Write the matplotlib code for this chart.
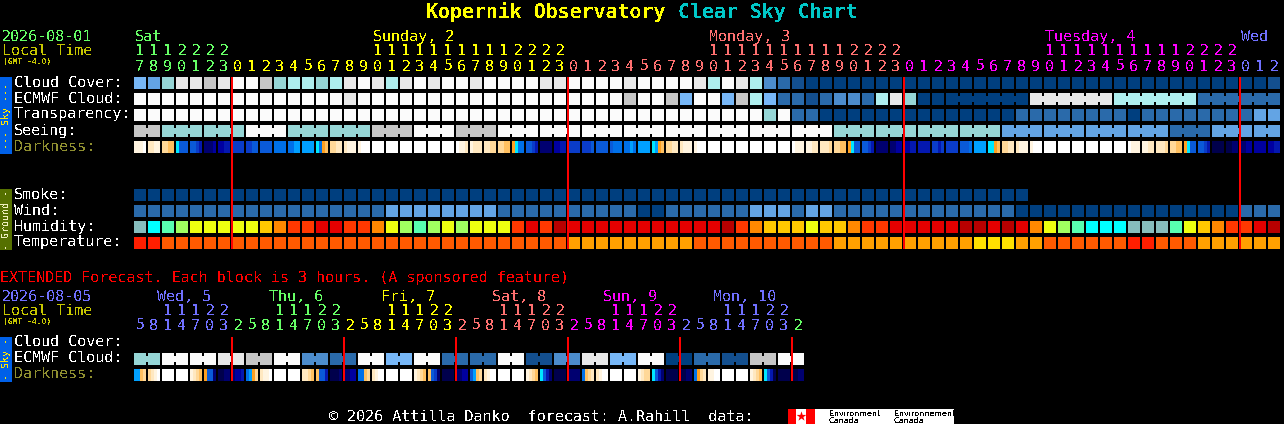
import matplotlib
matplotlib.use('Agg')
import matplotlib.pyplot as plt

plt.rcParams['font.family'] = ['DejaVu Sans Mono']
plt.rcParams['text.antialiased'] = False
plt.rcParams['text.hinting'] = 'no_hinting'

# colour scales
cloud_colors = ['#003f7f', '#134f8f', '#2a6aaa', '#4c8ccc', '#63a4e4', '#77b7f7',
                '#96d6d6', '#aeeeee', '#c6c6c6', '#e8e8e8', '#fbfbfb']
humid_colors = ['#86bdbd', '#00ffff', '#58ffb0', '#a0ff60', '#eeff10', '#ffc800',
                '#ff8800', '#ff3800', '#e40000', '#b80000']
temp_colors = ['#ff1e00', '#ff5a00', '#ffa000', '#ffe000']
dark_colors = ['#00004c', '#000070', '#0000a0', '#0418b0', '#0a3cc8', '#0a5ad8',
               '#0070e8', '#00a0ff', '#00e8ff', '#ffa020', '#ffc060', '#ffd898',
               '#ffe8c0', '#fff4e0', '#ffffff']

cloud_cover = [5, 4, 6, 9, 9, 8, 9, 10, 10, 8, 6, 7, 7, 6, 7, 9, 10, 9, 7, 9, 10,
               9, 10, 10, 9, 10, 10, 10, 10, 9, 9, 10, 10, 10, 10, 9, 10, 10, 10, 10, 9,
               7, 10, 9, 7, 3, 2, 1, 0, 0, 0, 0,
               0, 0, 0, 0, 0, 0, 0, 0, 0, 0, 0, 0, 0, 0, 0, 0, 0, 0, 0, 0, 0, 0, 0, 0,
               0, 0, 0, 0, 0, 1]
ecmwf = [10, 10, 10, 10, 10, 10, 10, 10, 10, 10, 10, 10, 10, 10, 10, 9, 10, 10, 10, 10, 10,
         10, 10, 10, 10, 10, 10, 10, 10, 10, 10, 10, 10, 10, 10, 8, 10, 10, 8, 5, 10,
         10, 5, 8, 7, 5, 2, 2, 1, 2, 3, 3,
         2, 7, 9, 6, 0, 0, 0, 0, 0, 0, 0, 0, 9, 9, 9, 9, 9, 9, 7, 7, 7, 7, 7, 7,
         2, 2, 2, 2, 2, 2]
transparency = [10, 10, 10, 10, 10, 10, 10, 10, 10, 10, 10, 10, 10, 10, 10, 10, 10, 10, 10, 10, 10,
                10, 10, 10, 10, 10, 10, 10, 10, 10, 10, 10, 10, 10, 10, 10, 10, 10, 10, 10, 10,
                10, 10, 10, 10, 6, 10, 2, 2, 0, 0, 0,
                0, 0, 0, 0, 0, 0, 0, 0, 0, 0, 0, 2, 2, 2, 2, 2, 2, 2, 2, 0, 2, 2, 2, 2,
                2, 2, 2, 2, 4, 4]
seeing = [8, 8, 6, 6, 6, 6, 6, 6, 10, 10, 10, 6, 6, 6, 6, 6, 6, 8, 8, 8, 10,
          10, 10, 8, 8, 8, 10, 10, 10, 10, 10, 10, 10, 10, 10, 10, 10, 10, 10, 10, 10,
          10, 10, 10, 10, 10, 10, 10, 10, 10, 6, 6,
          6, 6, 6, 6, 6, 6, 6, 6, 6, 6, 4, 4, 4, 4, 4, 4, 4, 4, 4, 4, 4, 4, 2, 2,
          2, 4, 4, 4, 4, 4]
smoke = [0] * 64
wind = [2, 2, 2, 2, 2, 2, 2, 2, 2, 2, 2, 2, 2, 2, 2, 2, 2, 2, 4, 4, 4,
        4, 4, 4, 4, 4, 2, 2, 2, 2, 2, 2, 2, 2, 2, 2, 0, 0, 2, 2, 2,
        2, 2, 2, 4, 4, 4, 2, 4, 4, 2, 2,
        2, 2, 2, 2, 2, 2, 2, 2, 2, 2, 2, 0, 0, 0, 0, 0, 0, 0, 0, 0, 0, 0, 0, 0,
        0, 0, 0, 2, 2, 2]
humidity = [0, 1, 2, 3, 4, 4, 4, 4, 4, 5, 6, 7, 7, 8, 8, 7, 7, 6, 4, 3, 2,
            3, 4, 3, 4, 4, 4, 7, 8, 7, 9, 8, 8, 8, 8, 8, 8, 8, 8, 8, 8,
            8, 9, 7, 6, 5, 5, 5, 4, 5, 5, 6,
            7, 7, 8, 8, 8, 8, 8, 9, 9, 8, 9, 8, 6, 4, 3, 2, 1, 1, 1, 0, 0, 0, 2, 4,
            5, 6, 7, 7, 8, 9]
temperature = [0, 0, 1, 1, 1, 1, 1, 1, 1, 1, 1, 1, 1, 1, 1, 1, 1, 1, 1, 1, 1,
               1, 1, 1, 1, 1, 1, 1, 1, 1, 1, 2, 2, 2, 2, 2, 2, 2, 2, 2, 1,
               1, 1, 1, 1, 1, 1, 1, 1, 1, 2, 2,
               2, 2, 2, 2, 2, 2, 2, 2, 3, 3, 3, 2, 2, 1, 1, 1, 1, 1, 1, 0, 0, 1, 1, 1,
               2, 2, 2, 2, 2, 2]

# each block shows how the sky changes inside the hour
darkness = [[13, 13, 13, 14], [12, 12, 13, 13], [11, 11, 10, 10], [8, 5, 5, 5], [5, 5, 4, 3],
            [1, 1, 1, 2], [2, 2, 3, 3], [4, 4, 4, 4], [4, 4, 5, 5], [5, 5, 5, 5], [6, 6, 6, 6],
            [6, 6, 7, 7], [7, 7, 7, 7], [8, 6, 9, 10], [11, 11, 12, 12], [12, 13, 13, 13],
            [13, 14, 14, 14], [14, 14, 14, 14], [14, 14, 14, 14], [14, 14, 14, 14], [14, 14, 14, 14],
            [14, 14, 14, 14], [14, 14, 14, 14], [14, 13, 13, 12], [13, 12, 12, 12], [12, 12, 11, 11],
            [11, 11, 10, 10], [9, 8, 6, 6], [5, 5, 4, 3], [1, 1, 1, 1], [2, 2, 3, 3],
            [4, 4, 4, 4], [4, 4, 4, 5], [5, 5, 5, 5], [5, 6, 6, 6], [6, 6, 7, 6], [7, 7, 7, 7],
            [8, 7, 9, 10], [11, 11, 12, 12], [12, 13, 13, 13], [13, 14, 14, 14], [14, 14, 14, 14],
            [14, 14, 14, 14], [14, 14, 14, 14], [14, 14, 14, 14], [14, 14, 14, 14], [14, 14, 14, 14],
            [14, 13, 13, 13], [13, 13, 12, 12], [12, 12, 12, 11], [11, 11, 10, 10], [9, 8, 5, 5],
            [5, 5, 4, 3], [1, 1, 1, 1], [1, 1, 2, 2], [2, 2, 3, 3], [3, 3, 3, 3], [4, 4, 3, 4],
            [4, 4, 4, 4], [5, 5, 5, 6], [7, 7, 7, 7], [8, 8, 9, 10], [11, 11, 12, 12],
            [12, 13, 13, 13], [13, 14, 14, 14], [14, 14, 14, 14], [14, 14, 14, 14], [14, 14, 14, 14],
            [14, 14, 14, 14], [14, 14, 14, 14], [14, 14, 14, 14], [14, 13, 13, 13], [13, 13, 12, 12],
            [12, 12, 12, 11], [11, 11, 10, 10], [9, 8, 5, 5], [5, 5, 4, 3], [0, 0, 0, 0],
            [0, 0, 1, 1], [1, 1, 2, 2], [2, 2, 2, 2], [2, 2, 3, 3]]

hours = [17, 18, 19, 20, 21, 22, 23] + list(range(24)) * 3 + [0, 1, 2]
hour_days = [0] * 7 + [1] * 24 + [2] * 24 + [3] * 24 + [4] * 3
day_colors = ['#66ff66', '#ffff00', '#ff7070', '#ff00ff', '#7070ff']
day_names = ['Sat', 'Sunday, 2', 'Monday, 3', 'Tuesday, 4', 'Wed']
day_starts = [0, 17, 41, 65, 79]

ext_ecmwf = [6, 10, 10, 9, 8, 10, 3, 2, 10, 5, 10, 2, 2, 10, 1, 3, 9, 5, 10, 0, 2, 1, 8, 10]
ext_darkness = [[7, 7, 10, 11], [11, 12, 13, 14], [14, 14, 14, 14], [14, 14, 14, 14],
                [13, 12, 11, 10], [9, 5, 5, 1], [0, 0, 1, 1], [1, 2, 2, 3],
                [6, 7, 9, 11], [12, 13, 13, 14], [14, 14, 14, 14], [14, 14, 14, 14],
                [12, 12, 11, 10], [10, 5, 5, 3], [0, 0, 0, 1], [1, 1, 2, 2],
                [6, 6, 10, 11], [12, 13, 14, 14], [14, 14, 14, 14], [14, 14, 14, 14],
                [13, 12, 11, 10], [10, 5, 4, 1], [0, 0, 0, 0], [1, 1, 2, 2],
                [5, 7, 10, 11], [12, 13, 14, 14], [14, 14, 14, 14], [14, 14, 14, 14],
                [13, 12, 11, 10], [8, 5, 3, 1], [0, 0, 0, 0], [1, 1, 1, 1],
                [6, 10, 11, 12], [12, 13, 14, 14], [14, 14, 14, 14], [14, 14, 14, 14],
                [13, 12, 11, 11], [8, 5, 3, 1], [0, 0, 0, 0], [0, 0, 1, 1],
                [6, 9, 11, 12], [13, 13, 14, 14], [14, 14, 14, 14], [14, 14, 14, 14],
                [13, 12, 11, 10], [8, 5, 3, 0], [0, 0, 0, 0], [0, 0, 1, 1]]
ext_hours = [5, 8, 11, 14, 17, 20, 23, 2] * 6
ext_days = [4] * 7 + [0] * 8 + [1] * 8 + [2] * 8 + [3] * 8 + [4] * 8 + [0]
ext_names = ['Wed, 5', 'Thu, 6', 'Fri, 7', 'Sat, 8', 'Sun, 9', 'Mon, 10']
ext_name_x = [157, 269, 381, 492, 603, 713]
ext_name_days = [4, 0, 1, 2, 3, 4]

X0 = 134
STEP = 14
CELL = 12
PX = 72 / 100  # points per pixel

fig = plt.figure(figsize=(12.84, 4.24), dpi=100, facecolor='black')
ax = fig.add_axes([0, 0, 1, 1])
ax.set_xlim(0, 1284)
ax.set_ylim(424, 0)
ax.axis('off')


def label(x, y, s, color='white', px=15, **kw):
    ax.text(x, y + 1, s, color=color, fontsize=px * PX, va='baseline', **kw)


def row(y, values, colors, x0=X0):
    xs = [x0 + STEP * i for i in range(len(values))]
    ax.bar(xs, CELL, width=CELL, bottom=y, align='edge', linewidth=0, antialiased=False,
           color=[colors[v] for v in values])


def joins(y, start, stop, group, values, colors):
    # thin link between blocks that belong to one forecast period
    for i in range(start, stop):
        if (i - start) % group != group - 1 and i + 1 < len(values):
            ax.bar(X0 + STEP * i + CELL, 6, width=2, bottom=y + 3, align='edge', linewidth=0,
                   antialiased=False, color=colors[values[i]])


def strips(y, values):
    for i, cell in enumerate(values):
        for k, v in enumerate(cell):
            ax.bar(X0 + STEP * i + 3 * k, CELL, width=3, bottom=y, align='edge', linewidth=0,
                   antialiased=False, color=dark_colors[v])


# title
ax.text(426, 18, 'Kopernik Observatory', color='#ffff00', fontsize=19.93 * PX,
        fontweight='bold', va='baseline')
ax.text(678, 18, 'Clear Sky Chart', color='#00c8c8', fontsize=19.93 * PX,
        fontweight='bold', va='baseline')

# main chart header
label(2, 40, '2026-08-01', '#66ff66')
label(2, 54, 'Local Time', '#c8c800')
label(3, 63, '(GMT -4.0)', '#c8c800', px=8, fontweight='bold')
for i, name in enumerate(day_names):
    label(X0 + 1 + STEP * day_starts[i], 40, name, day_colors[i])
for i, h in enumerate(hours):
    c = day_colors[hour_days[i]]
    if h >= 10:
        label(X0 + 6 + STEP * i, 54, str(h // 10), c, ha='center')
    label(X0 + 6 + STEP * i, 70, str(h % 10), c, ha='center')

# sky rows
row(77, cloud_cover, cloud_colors)
row(93, ecmwf, cloud_colors)
joins(93, 58, 81, 6, ecmwf, cloud_colors)
row(109, transparency, cloud_colors)
row(125, seeing, cloud_colors)
ax.bar(X0 + STEP * 0 + CELL, 6, width=2, bottom=128, align='edge', linewidth=0,
       antialiased=False, color=cloud_colors[seeing[0]])
joins(125, 2, 82, 3, seeing, cloud_colors)
strips(141, darkness)

# ground rows
row(189, smoke, cloud_colors)
row(205, wind, cloud_colors)
row(221, humidity, humid_colors)
row(237, temperature, temp_colors)

for name, y in zip(['Cloud Cover:', 'ECMWF Cloud:', 'Transparency:', 'Seeing:'], [86, 102, 118, 134]):
    label(14, y, name)
label(14, 150, 'Darkness:', '#8f8f30')
for name, y in zip(['Smoke:', 'Wind:', 'Humidity:', 'Temperature:'], [198, 214, 230, 246]):
    label(14, y, name)

# midnight lines
for i in [7, 31, 55, 79]:
    ax.bar(X0 - 1 + i * STEP, 172, width=2, bottom=77, align='edge', linewidth=0,
           antialiased=False, color='#ff0000', zorder=3)

# side bands
ax.bar(0, 77, width=12, bottom=77, align='edge', linewidth=0, antialiased=False, color='#0060e8')
ax.bar(0, 61, width=12, bottom=189, align='edge', linewidth=0, antialiased=False, color='#557000')
ax.bar(0, 45, width=12, bottom=337, align='edge', linewidth=0, antialiased=False, color='#0060e8')
ax.text(6, 115.5, '--- Sky ---', color='#ffe800', fontsize=10 * PX, rotation=90, ha='center', va='center')
ax.text(6, 219.5, '- Ground -', color='#f0f0c0', fontsize=10 * PX, rotation=90, ha='center', va='center')
ax.text(6, 359, '- Sky -', color='#ffe800', fontsize=10 * PX, rotation=90, ha='center', va='center')

# extended forecast
label(0, 281, 'EXTENDED Forecast. Each block is 3 hours. (A sponsored feature)', '#ff0000')
label(2, 300, '2026-08-05', '#7070ff')
label(2, 314, 'Local Time', '#c8c800')
label(3, 323, '(GMT -4.0)', '#c8c800', px=8, fontweight='bold')
for x, name, d in zip(ext_name_x, ext_names, ext_name_days):
    label(x, 300, name, day_colors[d])
for i, h in enumerate(ext_hours):
    c = day_colors[ext_days[i]]
    if h >= 10:
        label(X0 + 6 + STEP * i, 314, str(h // 10), c, ha='center')
    label(X0 + 6 + STEP * i, 329, str(h % 10), c, ha='center')

ext_cells = [v for v in ext_ecmwf for _ in range(2)]
row(353, ext_cells, cloud_colors)
joins(353, 0, 48, 2, ext_cells, cloud_colors)
strips(369, ext_darkness)

label(14, 345, 'Cloud Cover:')
label(14, 361, 'ECMWF Cloud:')
label(14, 377, 'Darkness:', '#8f8f30')

for i in range(7, 48, 8):
    ax.bar(X0 + STEP * i - 1, 44, width=2, bottom=337, align='edge', linewidth=0,
           antialiased=False, color='#ff0000', zorder=3)

# footer
label(329, 420, '\u00a9 2026 Attilla Danko  forecast: A.Rahill  data:')
ax.bar(788, 15, width=166, bottom=409, align='edge', linewidth=0, antialiased=False, color='white')
ax.bar(788, 15, width=8, bottom=409, align='edge', linewidth=0, antialiased=False, color='#ff0000')
ax.bar(806, 15, width=9, bottom=409, align='edge', linewidth=0, antialiased=False, color='#ff0000')
ax.scatter([801], [416], s=55, marker='*', color='#ff0000', linewidths=0, zorder=3)
for x, name in zip([829, 894], ['Environment', 'Environnement']):
    ax.text(x, 415.5, name, color='black', fontsize=8 * PX, family='DejaVu Sans', va='baseline')
    ax.text(x, 422.5, 'Canada', color='black', fontsize=8 * PX, family='DejaVu Sans', va='baseline')

fig.savefig('out.png', dpi=100, facecolor='black')
